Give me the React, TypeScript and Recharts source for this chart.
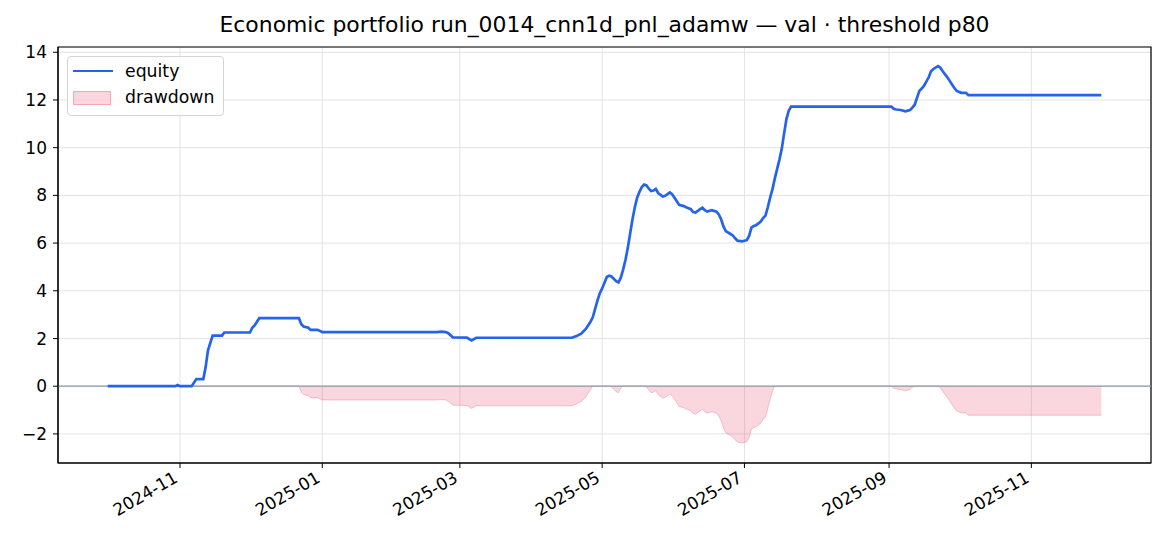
import { ComposedChart, Line, Area, XAxis, YAxis, CartesianGrid, ReferenceLine, ReferenceArea } from 'recharts';

const DATES = [
  '2024-10-01', '2024-10-30', '2024-10-31', '2024-11-01', '2024-11-06', '2024-11-08', '2024-11-11', '2024-11-12',
  '2024-11-13', '2024-11-15', '2024-11-19', '2024-11-20', '2024-12-01', '2024-12-02', '2024-12-03', '2024-12-05',
  '2024-12-22', '2024-12-23', '2024-12-24', '2024-12-26', '2024-12-27', '2024-12-30', '2024-12-31', '2025-01-01',
  '2025-02-19', '2025-02-21', '2025-02-23', '2025-02-24', '2025-02-26', '2025-03-04', '2025-03-06', '2025-03-08',
  '2025-04-18', '2025-04-20', '2025-04-22', '2025-04-24', '2025-04-26', '2025-04-27', '2025-04-29', '2025-04-30',
  '2025-05-01', '2025-05-03', '2025-05-04', '2025-05-05', '2025-05-07', '2025-05-08', '2025-05-09', '2025-05-10',
  '2025-05-11', '2025-05-12', '2025-05-13', '2025-05-14', '2025-05-15', '2025-05-16', '2025-05-17', '2025-05-18',
  '2025-05-19', '2025-05-20', '2025-05-21', '2025-05-22', '2025-05-23', '2025-05-24', '2025-05-25', '2025-05-27',
  '2025-05-28', '2025-05-30', '2025-05-31', '2025-06-02', '2025-06-03', '2025-06-05', '2025-06-06', '2025-06-08',
  '2025-06-09', '2025-06-10', '2025-06-12', '2025-06-13', '2025-06-14', '2025-06-15', '2025-06-17', '2025-06-19',
  '2025-06-20', '2025-06-21', '2025-06-22', '2025-06-23', '2025-06-25', '2025-06-26', '2025-06-27', '2025-06-28',
  '2025-06-30', '2025-07-02', '2025-07-03', '2025-07-04', '2025-07-05', '2025-07-06', '2025-07-08', '2025-07-09',
  '2025-07-10', '2025-07-11', '2025-07-12', '2025-07-13', '2025-07-14', '2025-07-15', '2025-07-16', '2025-07-17',
  '2025-07-18', '2025-07-19', '2025-07-20', '2025-07-21', '2025-09-02', '2025-09-03', '2025-09-04', '2025-09-06',
  '2025-09-08', '2025-09-10', '2025-09-11', '2025-09-12', '2025-09-13', '2025-09-14', '2025-09-15', '2025-09-16',
  '2025-09-18', '2025-09-19', '2025-09-20', '2025-09-22', '2025-09-23', '2025-09-24', '2025-09-26', '2025-09-27',
  '2025-09-28', '2025-09-29', '2025-09-30', '2025-10-02', '2025-10-04', '2025-10-05', '2025-12-01',
];

const EQUITY = [
  0, 0, 0.05, 0, 0, 0.3, 0.3, 0.8,
  1.5, 2.12, 2.12, 2.25, 2.25, 2.45, 2.55, 2.85,
  2.85, 2.6, 2.5, 2.45, 2.36, 2.36, 2.32, 2.27,
  2.27, 2.29, 2.27, 2.22, 2.05, 2.04, 1.92, 2.03,
  2.03, 2.1, 2.2, 2.4, 2.7, 2.9, 3.6, 3.9,
  4.1, 4.58, 4.63, 4.6, 4.4, 4.35, 4.55, 4.9,
  5.3, 5.8, 6.4, 7.0, 7.5, 7.9, 8.15, 8.35,
  8.45, 8.42, 8.28, 8.18, 8.2, 8.27, 8.1, 7.95,
  7.98, 8.12, 8.05, 7.75, 7.6, 7.55, 7.5, 7.42,
  7.3, 7.28, 7.42, 7.48, 7.38, 7.32, 7.38, 7.32,
  7.2, 7.0, 6.7, 6.5, 6.38, 6.32, 6.2, 6.1,
  6.07, 6.12, 6.3, 6.65, 6.72, 6.75, 6.9, 7.05,
  7.15, 7.5, 7.9, 8.25, 8.7, 9.1, 9.5, 9.95,
  10.6, 11.2, 11.55, 11.72, 11.72, 11.63, 11.6, 11.58,
  11.52, 11.58, 11.68, 11.8, 12.1, 12.38, 12.48, 12.6,
  12.95, 13.2, 13.3, 13.42, 13.35, 13.2, 12.95, 12.8,
  12.65, 12.5, 12.38, 12.3, 12.3, 12.2, 12.2,
];

const DRAWDOWN = [
  0, 0, 0, 0, 0, 0, 0, 0,
  0, 0, 0, 0, 0, 0, 0, 0,
  0, -0.25, -0.35, -0.4, -0.49, -0.49, -0.53, -0.58,
  -0.58, -0.56, -0.58, -0.63, -0.8, -0.81, -0.93, -0.82,
  -0.82, -0.75, -0.65, -0.45, -0.15, 0, 0, 0,
  0, 0, 0, -0.03, -0.23, -0.28, -0.08, 0,
  0, 0, 0, 0, 0, 0, 0, 0,
  0, -0.03, -0.17, -0.27, -0.25, -0.18, -0.35, -0.5,
  -0.47, -0.33, -0.4, -0.7, -0.85, -0.9, -0.95, -1.03,
  -1.15, -1.17, -1.03, -0.97, -1.07, -1.13, -1.07, -1.13,
  -1.25, -1.45, -1.75, -1.95, -2.07, -2.13, -2.25, -2.35,
  -2.38, -2.33, -2.15, -1.8, -1.73, -1.7, -1.55, -1.4,
  -1.3, -0.95, -0.55, -0.2, 0, 0, 0, 0,
  0, 0, 0, 0, 0, -0.09, -0.12, -0.14,
  -0.2, -0.14, -0.04, 0, 0, 0, 0, 0,
  0, 0, 0, 0, -0.07, -0.22, -0.47, -0.62,
  -0.77, -0.92, -1.04, -1.12, -1.12, -1.22, -1.22,
];

const MONTH_TICKS = ['2024-11-01', '2025-01-01', '2025-03-01', '2025-05-01', '2025-07-01', '2025-09-01', '2025-11-01'];
const Y_TICKS = [-2, 0, 2, 4, 6, 8, 10, 12, 14];

const TITLE = 'Economic portfolio run_0014_cnn1d_pnl_adamw — val · threshold p80';
const FONT = '"DejaVu Sans", sans-serif';
const BLUE = '#2563eb';
const TICK_FS = 17;

const day = (s: string) => Date.UTC(+s.slice(0, 4), +s.slice(5, 7) - 1, +s.slice(8, 10)) / 86400000;

const data = DATES.map((d, i) => ({ t: day(d), equity: EQUITY[i], dd: DRAWDOWN[i] }));
const t0 = data[0].t;
const t1 = data[data.length - 1].t;
const pad = (t1 - t0) * 0.05;
const X_DOMAIN: [number, number] = [t0 - pad, t1 + pad];
const Y_DOMAIN: [number, number] = [-3.22, 14.22];
const xTicks = MONTH_TICKS.map(day);

const fmtMonth = (t: number) => {
  const d = new Date(t * 86400000);
  return `${d.getUTCFullYear()}-${String(d.getUTCMonth() + 1).padStart(2, '0')}`;
};

// matplotlib-style rotated date label, right end pinned under the tick
const DateTick = (props: any) => {
  const { x, y, payload } = props;
  const ax = x - 1;
  const ay = y + 11;
  return (
    <text x={ax} y={ay} textAnchor="end" transform={`rotate(-30 ${ax} ${ay})`}
      fontSize={TICK_FS} fontFamily={FONT} fill="#000">
      {fmtMonth(payload.value)}
    </text>
  );
};

export default function App() {
  return (
    <div style={{ position: 'absolute', left: 0, top: 0, width: 1170, height: 546, background: '#fff', fontFamily: FONT }}>
      <div style={{ position: 'absolute', left: 58, width: 1093, top: 12, textAlign: 'center', fontSize: 21.9, color: '#000', whiteSpace: 'nowrap' }}>
        {TITLE}
      </div>
      <ComposedChart width={1170} height={546} data={data} margin={{ top: 47, right: 19, bottom: 0, left: 0 }}>
        <CartesianGrid stroke="#e3e3e3" strokeWidth={1} />
        <XAxis type="number" dataKey="t" domain={X_DOMAIN} ticks={xTicks} allowDataOverflow
          height={83} tick={<DateTick />} tickSize={5} tickLine={{ stroke: '#000' }} axisLine={{ stroke: '#000' }} />
        <YAxis type="number" domain={Y_DOMAIN} ticks={Y_TICKS} allowDataOverflow width={58}
          tickSize={5} tickMargin={6} tickLine={{ stroke: '#000' }} axisLine={{ stroke: '#000' }}
          tick={{ fontSize: TICK_FS, fontFamily: FONT, fill: '#000' }}
          tickFormatter={(v: number) => String(v).replace('-', '\u2212')} />
        <Area type="linear" dataKey="dd" baseValue={0} fill="#e11d48" fillOpacity={0.18}
          stroke="#e11d48" strokeOpacity={0.22} strokeWidth={1} isAnimationActive={false} dot={false} activeDot={false} />
        <ReferenceLine y={0} stroke="#8e99ab" strokeWidth={1.2} />
        <Line type="linear" dataKey="equity" stroke={BLUE} strokeWidth={2.7} dot={false} activeDot={false}
          isAnimationActive={false} />
        <ReferenceArea x1={X_DOMAIN[0]} x2={X_DOMAIN[1]} y1={Y_DOMAIN[0]} y2={Y_DOMAIN[1]}
          fill="none" fillOpacity={0} stroke="#000" strokeWidth={1.2} ifOverflow="visible" />
      </ComposedChart>
      <div style={{ position: 'absolute', left: 67, top: 56, width: 157, height: 60, boxSizing: 'border-box',
        border: '1.3px solid #d4d4d4', borderRadius: 4, background: 'rgba(255,255,255,0.8)', fontSize: 17.3, color: '#000' }}>
        <div style={{ position: 'absolute', left: 5, top: 12.5, width: 40, height: 0, borderTop: `2.7px solid ${BLUE}` }} />
        <div style={{ position: 'absolute', left: 57, top: 4, lineHeight: 'normal' }}>equity</div>
        <div style={{ position: 'absolute', left: 5, top: 34, width: 38, height: 14, boxSizing: 'border-box',
          background: 'rgba(225,29,72,0.18)', border: '1px solid rgba(225,29,72,0.25)' }} />
        <div style={{ position: 'absolute', left: 57, top: 30, lineHeight: 'normal' }}>drawdown</div>
      </div>
    </div>
  );
}
